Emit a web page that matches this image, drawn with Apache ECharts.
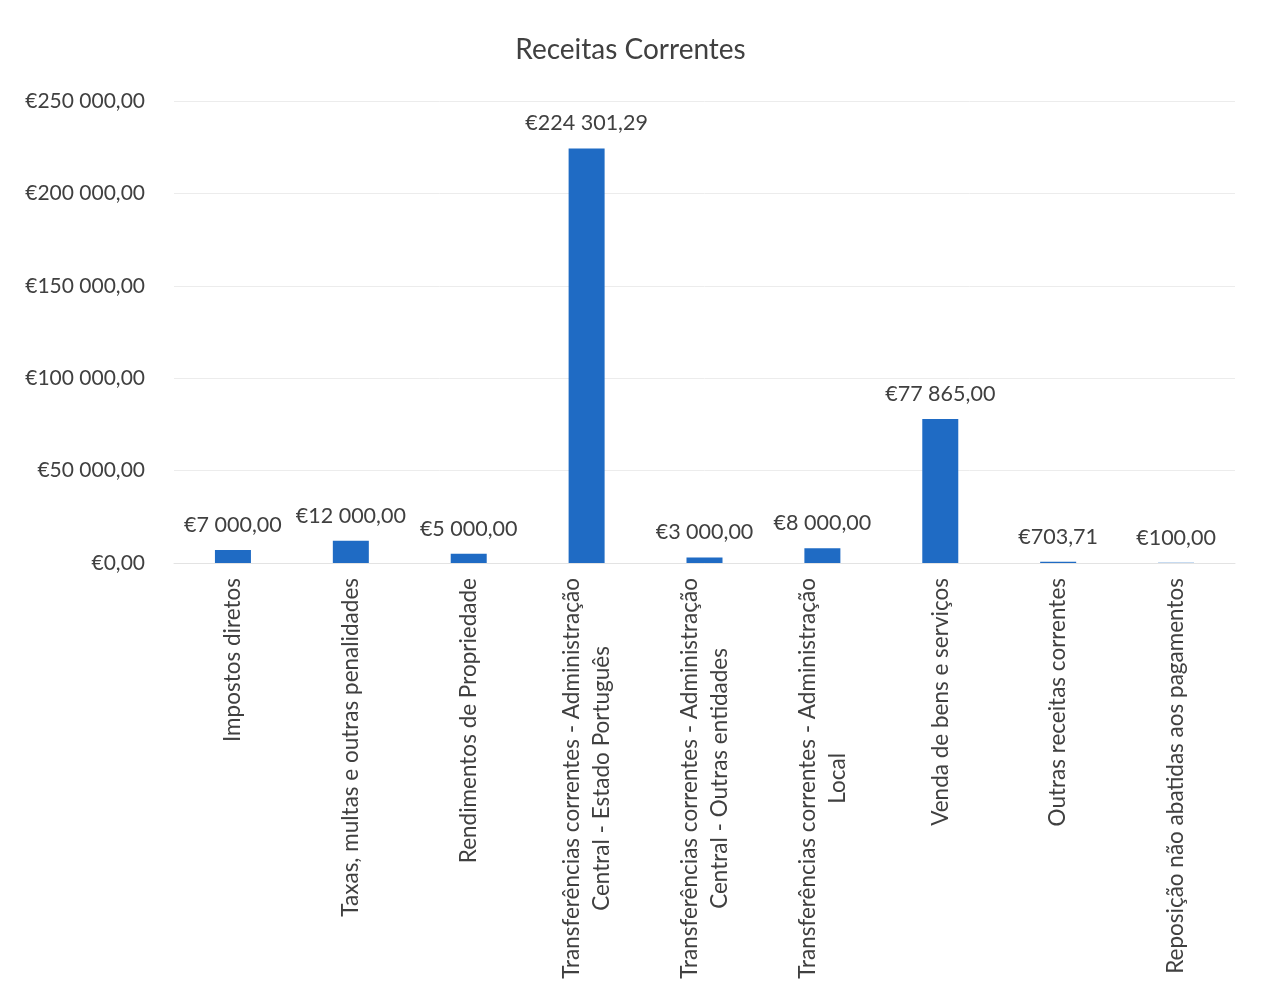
<!DOCTYPE html>
<html><head><meta charset="utf-8">
<script src="https://cdn.jsdelivr.net/npm/echarts@6/dist/echarts.min.js"></script>
<style>html,body{margin:0;padding:0;background:#fff}#c{width:1261px;height:991px}</style>
</head><body><div id="c"></div>
<script>
const categories = [
  "Impostos diretos",
  "Taxas, multas e outras penalidades",
  "Rendimentos de Propriedade",
  "Transferências correntes - Administração\nCentral - Estado Português",
  "Transferências correntes - Administração\nCentral - Outras entidades",
  "Transferências correntes - Administração\nLocal",
  "Venda de bens e serviços",
  "Outras receitas correntes",
  "Reposição não abatidas aos pagamentos"
];
const values = [7000, 12000, 5000, 224301.29, 3000, 8000, 77865, 703.71, 100];
const yTicks = [0, 50000, 100000, 150000, 200000, 250000];

function eur(v) {
  const parts = Number(v).toFixed(2).split('.');
  const intPart = parts[0].replace(/\B(?=(\d{3})+(?!\d))/g, ' ');
  return '€' + intPart + ',' + parts[1];
}

const FONT = 'Lato';
const chart = echarts.init(document.getElementById('c'));
chart.setOption({
  backgroundColor: '#ffffff',
  animation: false,
  title: {
    text: 'Receitas Correntes',
    left: 'center',
    top: 31,
    textStyle: { fontFamily: FONT, fontSize: 28, fontWeight: 'normal', color: '#404040' }
  },
  grid: { left: 174, right: 26, top: 101, bottom: 428 },
  xAxis: {
    type: 'category',
    data: categories,
    axisLine: { lineStyle: { color: '#e3e3e3', width: 1 } },
    axisTick: { show: false },
    axisLabel: {
      interval: 0,
      rotate: 90,
      margin: 15,
      fontFamily: FONT,
      fontSize: 22.5,
      color: '#404040',
      formatter: function (v) {
        return v.split('\n').map(s => '{a|' + s + '}').join('\n');
      },
      rich: { a: { align: 'center', fontFamily: FONT, fontSize: 22.5, lineHeight: 30, color: '#404040' } }
    }
  },
  yAxis: {
    type: 'value',
    min: yTicks[0],
    max: yTicks[yTicks.length - 1],
    interval: 50000,
    axisLine: { show: false },
    axisTick: { show: false },
    splitLine: { lineStyle: { color: '#ececec', width: 1 } },
    axisLabel: {
      margin: 29,
      fontFamily: FONT,
      fontSize: 21,
      color: '#404040',
      formatter: eur
    }
  },
  series: [{
    type: 'bar',
    data: values,
    barWidth: 36,
    itemStyle: { color: '#1f6bc4' },
    label: {
      show: true,
      position: 'top',
      distance: 14,
      fontFamily: FONT,
      fontSize: 21.5,
      color: '#404040',
      formatter: p => eur(p.value)
    }
  }]
});
</script></body></html>
